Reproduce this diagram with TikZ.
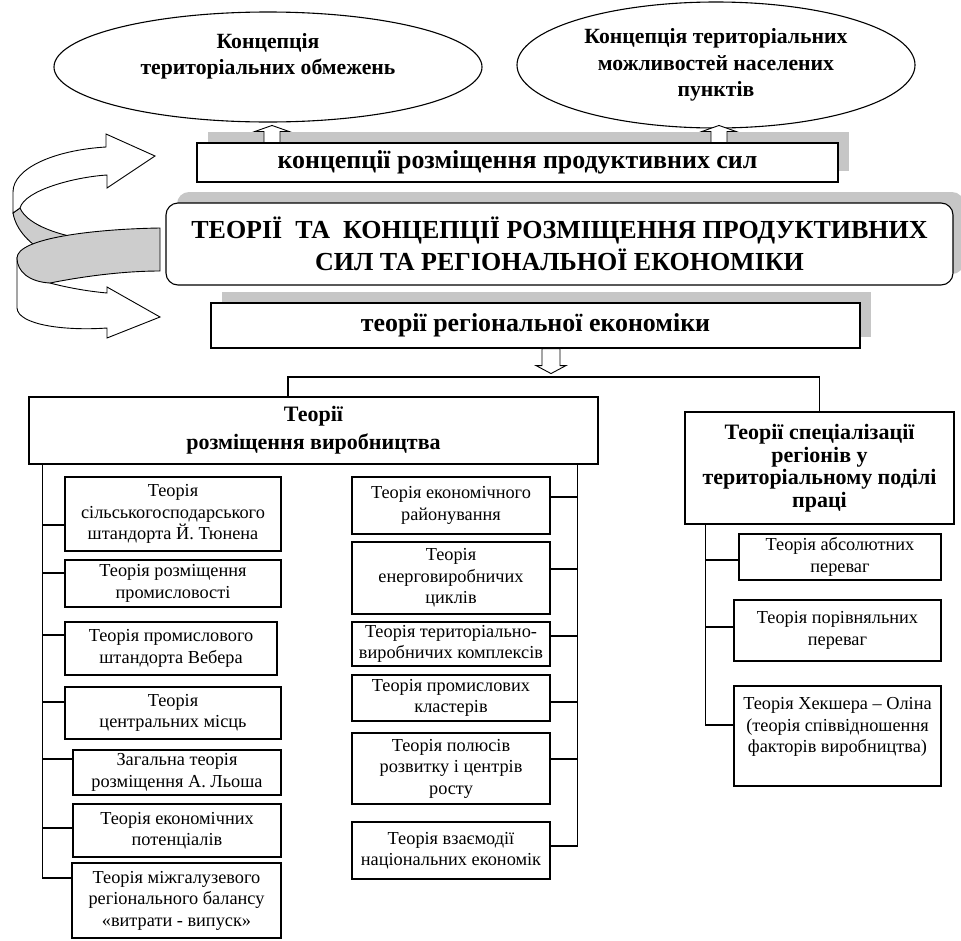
\documentclass[tikz,border=0pt]{standalone}
\usepackage{fontspec}
\setmainfont{Liberation Serif}
\usetikzlibrary{shapes.geometric,shadows}
\definecolor{shadegray}{RGB}{198,198,198}
\definecolor{ribbongray}{RGB}{205,205,205}

\begin{document}
\begin{tikzpicture}[x=1pt,y=-1pt,line width=1.1pt,
   oval/.style={ellipse,draw,inner sep=0pt,align=center,
    font=\bfseries\fontsize{21.7}{26.5}\selectfont},
   head/.style={rectangle,draw,fill=white,inner sep=0pt,align=center,
    font=\bfseries\fontsize{25.9}{30}\selectfont},
   leaf/.style={rectangle,draw,fill=white,inner sep=0pt,align=center,
    font=\fontsize{18.3}{21.5}\selectfont},
   drop/.style={drop shadow={shadow xshift=11pt,shadow yshift=11pt,
    fill=shadegray,opacity=1}},
   ribbon/.style={draw,line width=0.9pt}
    ]
  \useasboundingbox (0,0) rectangle (961,940);

  % -- ellipses on top
  \node[oval,minimum width=428pt,minimum height=110pt] at (268,67) (ovL) {Концепція\\територіальних обмежень\\~};
  \node[oval,minimum width=398pt,minimum height=126pt] at (716,65) (ovR) {Концепція територіальних\\можливостей населених\\пунктів};

  % -- spiral ribbon on the left
  \draw[ribbon,fill=ribbongray] (13,213) .. controls (16,230) and (30,245) .. (50,255) -- (90,240) .. controls (50,234) and (26,222) .. (20,208) -- cycle;
  \draw[ribbon,fill=white] (13,213) -- (13,192) .. controls (13,168) and (55,150) .. (106,147) -- (106,134) -- (155,156) -- (107,188) -- (107,175) .. controls (75,177) and (25,190) .. (20,208) -- cycle;
  \draw[ribbon,fill=white] (17,258) -- (17,308) .. controls (18,325) and (65,331) .. (107,328) -- (107,338) -- (160,317) -- (107,287) -- (107,293) .. controls (85,291) and (65,287) .. (50,283) -- cycle;
  \draw[ribbon,fill=ribbongray] (160,228) .. controls (95,229) and (17,238) .. (17,258) .. controls (17,272) and (30,282) .. (50,283) .. controls (85,276) and (125,271) .. (160,271) -- cycle;

  % -- middle boxes
  \node[head,drop,minimum width=641pt,minimum height=39pt] at (517.5,162.5) (cnc) {концепції розміщення продуктивних сил};
  \node[head,drop={shadow xshift=8pt,shadow yshift=10pt},rounded corners=12pt,minimum width=787pt,minimum height=82pt,
    font=\bfseries\fontsize{26}{32}\selectfont] at (559.5,244) (main)
    {ТЕОРІЇ\ \ ТА\ \ КОНЦЕПЦІЇ РОЗМІЩЕННЯ ПРОДУКТИВНИХ\\СИЛ ТА РЕГІОНАЛЬНОЇ ЕКОНОМІКИ};
  \node[head,drop,minimum width=649pt,minimum height=45pt] at (535.5,325.5) (reg) {теорії регіональної економіки};

  % -- block arrows
  \foreach \x in {272,719}
    \draw[fill=white,line width=0.9pt] (cnc.north -| \x,0) -- ++(-8,0) -- ++(0,-11) -- ++(-9,0) -- ++(17,-6) -- ++(17,6) -- ++(-9,0) -- ++(0,11) -- cycle;
  \draw[fill=white,line width=0.9pt] (reg.south -| 551,0) -- ++(-9,0) -- ++(0,17) -- ++(-6,0) -- ++(15,8) -- ++(15,-8) -- ++(-6,0) -- ++(0,-17) -- cycle;

  % -- two branches
  \node[head,minimum width=569pt,minimum height=67pt,font=\bfseries\fontsize{22}{28}\selectfont] at (313.5,430.5) (prod) {Теорії\\розміщення виробництва};
  \node[head,minimum width=269pt,minimum height=112pt,font={\bfseries\fontsize{22}{22.5}\selectfont\lineskiplimit=-10pt\relax}] at (819.5,468) (spec) {Теорії спеціалізації\\регіонів у\\територіальному поділі\\праці};
  \coordinate (hub) at (551,377);
  \draw ([xshift=-25.5pt]prod.north) |- (hub) -| (spec.north);

  % -- left column
  \node[leaf,minimum width=216pt,minimum height=74pt] at (173,514) (L1) {Теорія\\сільськогосподарського\\штандорта Й. Тюнена};
  \node[leaf,minimum width=216pt,minimum height=47pt] at (173,583.5) (L2) {Теорія розміщення\\промисловості};
  \node[leaf,minimum width=212pt,minimum height=53pt] at (171,648.5) (L3) {Теорія промислового\\штандорта Вебера};
  \node[leaf,minimum width=216pt,minimum height=52pt] at (173,713) (L4) {Теорія\\центральних місць};
  \node[leaf,minimum width=208pt,minimum height=45pt] at (177,772.5) (L5) {Загальна теорія\\розміщення А. Льоша};
  \node[leaf,minimum width=208pt,minimum height=53pt] at (177,830.5) (L6) {Теорія економічних\\потенціалів};
  \node[leaf,minimum width=209pt,minimum height=75pt] at (176.5,900.5) (L7) {Теорія міжгалузевого\\регіонального балансу\\«витрати - випуск»};

  % -- middle column
  \node[leaf,minimum width=198pt,minimum height=57pt] at (451,505.5) (M1) {Теорія економічного\\районування};
  \node[leaf,minimum width=198pt,minimum height=72pt] at (451,578) (M2) {Теорія\\енерговиробничих\\циклів};
  \node[leaf,minimum width=198pt,minimum height=44pt] at (451,644) (M3) {Теорія територіально-\\виробничих комплексів};
  \node[leaf,minimum width=198pt,minimum height=46pt] at (451,698) (M4) {Теорія промислових\\кластерів};
  \node[leaf,minimum width=198pt,minimum height=71pt] at (451,768.5) (M5) {Теорія полюсів\\розвитку і центрів\\росту};
  \node[leaf,minimum width=198pt,minimum height=57pt] at (451,850.5) (M6) {Теорія взаємодії\\національних економік};

  % -- right column
  \node[leaf,minimum width=202pt,minimum height=46pt] at (840,557) (R1) {Теорія абсолютних\\переваг};
  \node[leaf,minimum width=207pt,minimum height=61pt] at (837.5,630.5) (R2) {Теорія порівняльних\\переваг};
  \node[leaf,minimum width=207pt,minimum height=100pt] at (837.5,736) (R3) {Теорія Хекшера – Оліна\\(теорія співвідношення\\факторів виробництва)\\~};

  % -- trunks and branches
  \coordinate (tL) at ([xshift=14pt]prod.south west);
  \coordinate (tM) at ([xshift=-21pt]prod.south east);
  \coordinate (tR) at ([xshift=21pt]spec.south west);
  \draw (tL) -- (tL |- 0,878);
  \draw (tM) -- (tM |- 0,846);
  \draw (tR) -- (tR |- 0,725);
  \foreach \n/\y in {L1/525,L2/573,L3/635,L4/702,L5/759,L6/828,L7/878}
    \draw (tL |- 0,\y) -- (\n.west |- 0,\y);
  \foreach \n/\y in {M1/497,M2/569,M3/636,M4/702,M5/759,M6/846}
    \draw (tM |- 0,\y) -- (\n.east |- 0,\y);
  \foreach \n/\y in {R1/560,R2/627,R3/725}
    \draw (tR |- 0,\y) -- (\n.west |- 0,\y);

\end{tikzpicture}
\end{document}
